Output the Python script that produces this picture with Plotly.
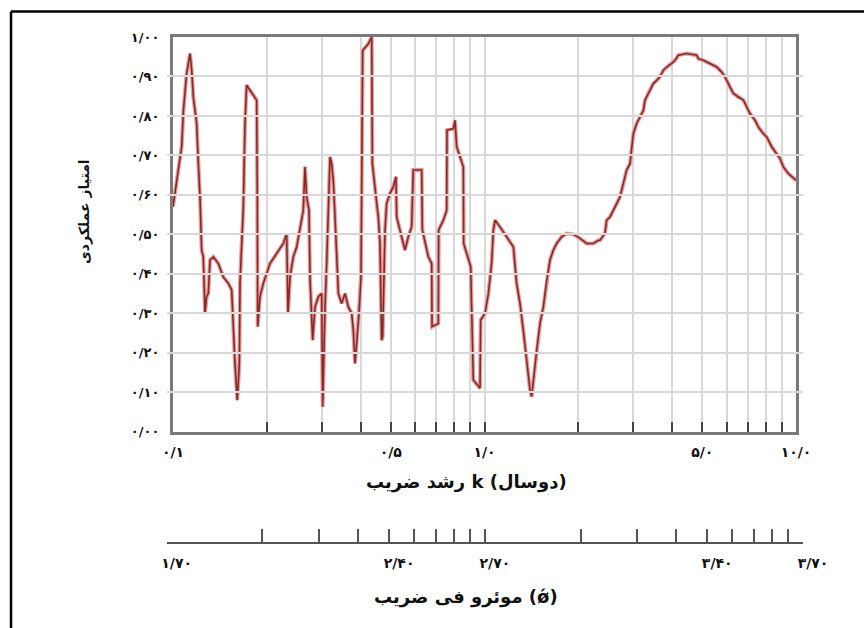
import plotly.graph_objects as go

# growth coefficient k (per two years) and performance score
k_values = [0.100, 0.104, 0.1066, 0.108, 0.1106, 0.1134, 0.1148, 0.1162, 0.1191, 0.1206,
            0.1221, 0.1236, 0.1251, 0.1267, 0.1282, 0.1298, 0.1315, 0.1348, 0.1398, 0.145,
            0.1505, 0.1543, 0.1562, 0.1581, 0.1608, 0.1633, 0.1641, 0.1682, 0.1702, 0.1723,
            0.1767, 0.1856, 0.1865, 0.187, 0.1902, 0.195, 0.2048, 0.2153, 0.2261, 0.2317,
            0.234, 0.2375, 0.2433, 0.2495, 0.2557, 0.262, 0.2653, 0.2686, 0.2733, 0.2754,
            0.2808, 0.2857, 0.2928, 0.3001, 0.3023, 0.3053, 0.3076, 0.3114, 0.3152, 0.3192,
            0.3231, 0.327, 0.3312, 0.3352, 0.3395, 0.3479, 0.3566, 0.3654, 0.3746, 0.3792,
            0.3839, 0.3887, 0.3955, 0.4014, 0.4064, 0.4237, 0.4344, 0.4365, 0.4505, 0.4561,
            0.4618, 0.4675, 0.471, 0.4793, 0.4852, 0.4972, 0.5096, 0.5198, 0.5224, 0.5355,
            0.5556, 0.5694, 0.5836, 0.5908, 0.6285, 0.6316, 0.6603, 0.6768, 0.6785, 0.7109,
            0.7127, 0.7377, 0.7561, 0.7579, 0.7942, 0.8042, 0.8141, 0.8344, 0.8551, 0.8573,
            0.8766, 0.9029, 0.9206, 0.9673, 0.9721, 1.004, 1.029, 1.054, 1.068, 1.081,
            1.121, 1.178, 1.238, 1.268, 1.300, 1.332, 1.366, 1.400, 1.417, 1.435,
            1.471, 1.507, 1.545, 1.584, 1.623, 1.663, 1.705, 1.769, 1.836, 1.929,
            2.026, 2.128, 2.236, 2.320, 2.349, 2.436, 2.467, 2.529, 2.624, 2.723,
            2.791, 2.860, 2.932, 2.968, 3.005, 3.080, 3.157, 3.236, 3.275, 3.399,
            3.483, 3.570, 3.659, 3.751, 3.845, 3.990, 4.089, 4.191, 4.457, 4.798,
            4.858, 5.040, 5.296, 5.565, 5.774, 5.918, 6.141, 6.295, 6.532, 6.777,
            6.945, 7.118, 7.387, 7.571, 7.856, 8.052, 8.354, 8.668, 8.886, 9.107,
            9.449, 10.0]
score_values = [0.570, 0.663, 0.722, 0.814, 0.907, 0.958, 0.916, 0.848, 0.781, 0.679,
                0.595, 0.460, 0.443, 0.300, 0.342, 0.350, 0.435, 0.443, 0.426, 0.392,
                0.376, 0.359, 0.257, 0.173, 0.080, 0.173, 0.376, 0.570, 0.776, 0.878,
                0.865, 0.840, 0.595, 0.266, 0.342, 0.376, 0.426, 0.452, 0.477, 0.502,
                0.300, 0.392, 0.443, 0.468, 0.519, 0.561, 0.671, 0.595, 0.561, 0.384,
                0.232, 0.316, 0.342, 0.350, 0.063, 0.257, 0.316, 0.426, 0.595, 0.696,
                0.679, 0.637, 0.544, 0.426, 0.350, 0.325, 0.350, 0.316, 0.300, 0.257,
                0.173, 0.224, 0.300, 0.392, 0.966, 0.983, 1.000, 0.679, 0.578, 0.544,
                0.477, 0.232, 0.241, 0.511, 0.578, 0.604, 0.620, 0.646, 0.544, 0.511,
                0.460, 0.494, 0.519, 0.663, 0.663, 0.511, 0.443, 0.426, 0.266, 0.274,
                0.511, 0.536, 0.561, 0.764, 0.768, 0.789, 0.722, 0.696, 0.671, 0.477,
                0.452, 0.418, 0.131, 0.110, 0.283, 0.300, 0.350, 0.426, 0.511, 0.536,
                0.519, 0.494, 0.468, 0.376, 0.325, 0.257, 0.173, 0.106, 0.089, 0.131,
                0.207, 0.274, 0.316, 0.384, 0.435, 0.460, 0.477, 0.494, 0.502, 0.500,
                0.490, 0.477, 0.477, 0.485, 0.485, 0.502, 0.536, 0.544, 0.570, 0.595,
                0.629, 0.663, 0.679, 0.713, 0.755, 0.781, 0.797, 0.814, 0.840, 0.865,
                0.882, 0.890, 0.899, 0.916, 0.924, 0.933, 0.941, 0.954, 0.958, 0.954,
                0.945, 0.941, 0.933, 0.924, 0.911, 0.899, 0.873, 0.857, 0.848, 0.840,
                0.823, 0.806, 0.789, 0.772, 0.755, 0.747, 0.722, 0.705, 0.692, 0.671,
                0.654, 0.637]

y_tick_values = [0.0, 0.1, 0.2, 0.3, 0.4, 0.5, 0.6, 0.7, 0.8, 0.9, 1.0]
y_tick_labels = ["۰/۰۰", "۰/۱۰", "۰/۲۰", "۰/۳۰", "۰/۴۰", "۰/۵۰",
                 "۰/۶۰", "۰/۷۰", "۰/۸۰", "۰/۹۰", "۱/۰۰"]
k_tick_values = [0.1, 0.2, 0.3, 0.4, 0.5, 0.6, 0.7, 0.8, 0.9,
                 1, 2, 3, 4, 5, 6, 7, 8, 9, 10]
k_tick_labels = ["۰/۱", "", "", "", "۰/۵", "", "", "", "",
                 "۱/۰", "", "", "", "۵/۰", "", "", "", "", "۱۰/۰"]
phi_tick_labels = ["۱/۷۰", "", "", "", "۲/۴۰", "", "", "", "",
                   "۲/۷۰", "", "", "", "۳/۴۰", "", "", "", "", "۳/۷۰"]

y_title = "امتیاز عملکردی"
k_title = "ضریب\u200e رشد\u200e k (دوسال)"
phi_title = "ضریب\u200e فی\u200e موئرو\u200e (ǿ)"

FONT = "DejaVu Sans"
W, H = 864, 628
ML, MR, MT, MB = 150, 50, 37, 50
PW, PH = W - ML - MR, H - MT - MB


def px(x):
    return (x - ML) / PW


def py(y):
    return (H - MB - y) / PH


fig = go.Figure()
fig.add_trace(go.Scatter(x=k_values, y=score_values, mode="lines",
                         line=dict(color="#e49c9c", width=4),
                         hoverinfo="skip", showlegend=False))
fig.add_trace(go.Scatter(x=k_values, y=score_values, mode="lines",
                         line=dict(color="#8a2828", width=1.6),
                         showlegend=False))
# phi axis companion (invisible)
fig.add_trace(go.Scatter(x=k_values, y=score_values, mode="lines", xaxis="x2",
                         line=dict(width=0), opacity=0, hoverinfo="skip",
                         showlegend=False))

tickfont = dict(family=FONT, size=14, color="#111", weight="bold")

fig.update_layout(
    width=W, height=H,
    margin=dict(l=ML, r=MR, t=MT, b=MB, autoexpand=False),
    paper_bgcolor="white", plot_bgcolor="rgba(0,0,0,0)",
    showlegend=False,
    xaxis=dict(
        type="log", range=[-1, 1], domain=[px(173), px(796)], anchor="y",
        tickmode="array", tickvals=k_tick_values, ticktext=k_tick_labels,
        ticks="inside", ticklen=10, tickwidth=2, tickcolor="#444",
        ticklabelstandoff=5,
        showgrid=True, gridcolor="#d8d8d8", gridwidth=1.6,
        showline=True, linecolor="#7a7a7a", linewidth=3, mirror=True,
        tickfont=tickfont, zeroline=False,
    ),
    yaxis=dict(
        range=[0, 1], domain=[py(431.7), 1], anchor="x",
        tickmode="array", tickvals=y_tick_values, ticktext=y_tick_labels,
        ticks="inside", ticklen=10, tickwidth=2, tickcolor="#444",
        ticklabelstandoff=8,
        showgrid=True, gridcolor="#d8d8d8", gridwidth=1.6,
        showline=True, linecolor="#7a7a7a", linewidth=3, mirror=True,
        tickfont=dict(family=FONT, size=13, color="#111", weight="bold"),
        zeroline=False,
    ),
    xaxis2=dict(
        type="log", range=[-1, 1], domain=[px(166.7), px(803)],
        anchor="free", position=py(542.7), side="bottom",
        tickmode="array", tickvals=k_tick_values, ticktext=phi_tick_labels,
        ticks="inside", ticklen=13, tickwidth=1.5, tickcolor="#555",
        ticklabelshift=10, ticklabelstandoff=7,
        showgrid=False, showline=True, linecolor="#555", linewidth=2,
        tickfont=tickfont, zeroline=False,
    ),
    annotations=[
        dict(text="<b>" + y_title + "</b>", textangle=-90,
             x=px(84), y=py(212), xref="paper", yref="paper",
             xanchor="center", yanchor="middle",
             showarrow=False, font=dict(family=FONT, size=14, color="#111")),
        dict(text="<b>" + k_title + "</b>",
             x=px(466), y=py(482), xref="paper", yref="paper",
             xanchor="center", yanchor="middle",
             showarrow=False, font=dict(family=FONT, size=18, color="#111")),
        dict(text="<b>" + phi_title + "</b>",
             x=px(466), y=py(597), xref="paper", yref="paper",
             xanchor="center", yanchor="middle",
             showarrow=False, font=dict(family=FONT, size=18, color="#111")),
    ],
    shapes=[
        dict(type="line", xref="paper", yref="paper",
             x0=px(11), x1=px(866), y0=py(11.5), y1=py(11.5),
             line=dict(color="black", width=2.5)),
        dict(type="line", xref="paper", yref="paper",
             x0=px(11), x1=px(11), y0=py(11.5), y1=py(630),
             line=dict(color="black", width=2.5)),
    ],
)

fig.write_html("out.html",
               config={"displayModeBar": False},
               post_script="document.body.style.margin='0';"
                           "document.body.style.overflow='hidden';")
